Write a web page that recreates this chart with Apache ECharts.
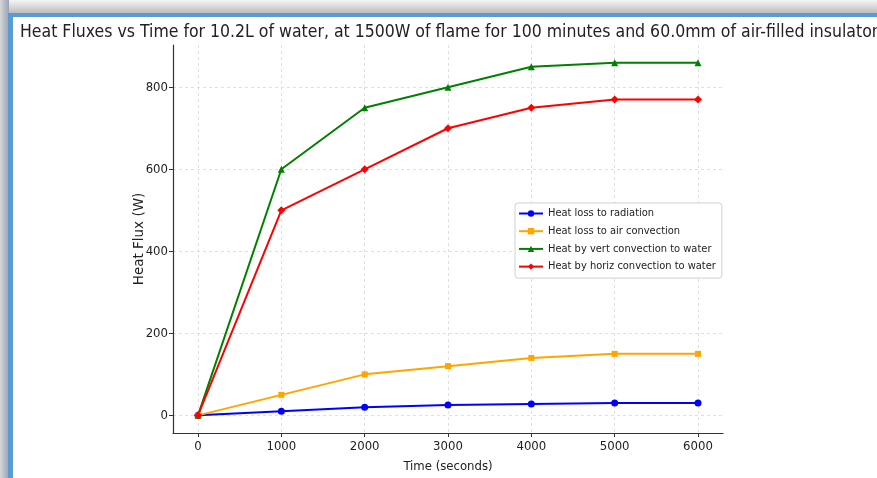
<!DOCTYPE html>
<html>
<head>
<meta charset="utf-8">
<script src="https://cdn.jsdelivr.net/npm/echarts@6/dist/echarts.min.js"></script>
<style>
  html, body { margin: 0; padding: 0; background: #fff; }
  #chart { width: 877px; height: 478px; }
</style>
</head>
<body>
<div id="chart"></div>
<script>
// Time samples (seconds)
const times = [0, 1000, 2000, 3000, 4000, 5000, 6000];

// Heat fluxes (W) at each time sample
const radiationLoss = [0, 10, 20, 25, 28, 30, 30];
const airConvectionLoss = [0, 50, 100, 120, 140, 150, 150];
const vertConvection = [0, 600, 750, 800, 850, 860, 860];
const horizConvection = [0, 500, 600, 700, 750, 770, 770];

// Tick labels
const xTicks = [0, 1000, 2000, 3000, 4000, 5000, 6000];
const yTicks = [0, 200, 400, 600, 800];

const titleText = 'Heat Fluxes vs Time for 10.2L of water, at 1500W of flame for 100 minutes and 60.0mm of air-filled insulator';

const condensed = '"DejaVu Sans Condensed", "DejaVu Sans", sans-serif';
const regular = '"DejaVu Sans", sans-serif';

function pairs(values) {
  return times.map((t, i) => [t, values[i]]);
}

function lineSeries(name, values, color, symbol, size) {
  return {
    name: name,
    type: 'line',
    data: pairs(values),
    symbol: symbol,
    symbolSize: size,
    showSymbol: true,
    lineStyle: { color: color, width: 2 },
    itemStyle: { color: color },
    emphasis: { disabled: true },
    animation: false,
    z: 3
  };
}

const chart = echarts.init(document.getElementById('chart'), null, { renderer: 'canvas' });

chart.setOption({
  animation: false,
  backgroundColor: '#ffffff',
  title: {
    text: titleText,
    left: 20,
    top: 23,
    padding: 0,
    textStyle: { fontFamily: condensed, fontSize: 17.5, fontWeight: 'normal', color: '#222' }
  },
  graphic: [
    // window-style frame along the top and left edges
    { type: 'rect', shape: { x: 0, y: 0, width: 877, height: 14 },
      style: { fill: new echarts.graphic.LinearGradient(0, 0, 0, 1, [
        { offset: 0, color: '#f5f5f5' }, { offset: 1, color: '#b9b9b9' }]) }, z: 10 },
    { type: 'rect', shape: { x: 0, y: 0, width: 9, height: 478 },
      style: { fill: new echarts.graphic.LinearGradient(0, 0, 1, 0, [
        { offset: 0, color: '#d6d6d6' }, { offset: 1, color: '#98a3b2' }]) }, z: 10 },
    { type: 'rect', shape: { x: 8, y: 13, width: 869, height: 4 },
      style: { fill: '#5b9bd5' }, z: 11 },
    { type: 'rect', shape: { x: 8, y: 13, width: 5, height: 465 },
      style: { fill: '#5b9bd5' }, z: 11 }
  ],
  grid: { left: 173, right: 154, top: 45, bottom: 42, containLabel: false },
  legend: {
    orient: 'vertical',
    left: 515,
    top: 203,
    padding: [5, 6, 6, 3],
    itemGap: 6.7,
    itemWidth: 24,
    itemHeight: 8,
    backgroundColor: '#ffffff',
    borderColor: '#d0d0d0',
    borderWidth: 1,
    borderRadius: 3,
    textStyle: { fontFamily: condensed, fontSize: 11, color: '#222' },
    data: ['Heat loss to radiation', 'Heat loss to air convection',
           'Heat by vert convection to water', 'Heat by horiz convection to water']
  },
  xAxis: {
    type: 'value',
    min: -300,
    max: 6300,
    name: 'Time (seconds)',
    nameLocation: 'middle',
    nameGap: 27,
    nameTextStyle: { fontFamily: condensed, fontSize: 13, color: '#222' },
    axisLine: { show: true, onZero: false, lineStyle: { color: '#333', width: 1.2 } },
    axisTick: { show: true, length: 4, customValues: xTicks, lineStyle: { color: '#333' } },
    axisLabel: { customValues: xTicks, margin: 7, fontFamily: condensed, fontSize: 13, color: '#222',
                 formatter: (v) => String(v) },
    splitLine: { show: true, lineStyle: { color: '#d8d8d8', type: [3, 3], width: 0.8 } }
  },
  yAxis: {
    type: 'value',
    min: -43,
    max: 903,
    name: 'Heat Flux (W)',
    nameLocation: 'middle',
    nameGap: 27,
    nameMoveOverlap: false,
    nameRotate: 90,
    nameTextStyle: { fontFamily: regular, fontSize: 13.5, color: '#222' },
    axisLine: { show: true, onZero: false, lineStyle: { color: '#333', width: 1.2 } },
    axisTick: { show: true, length: 4, customValues: yTicks, lineStyle: { color: '#333' } },
    axisLabel: { customValues: yTicks, margin: 5, fontFamily: condensed, fontSize: 13, color: '#222',
                 formatter: (v) => String(v) },
    splitLine: { show: true, lineStyle: { color: '#d8d8d8', type: [3, 3], width: 0.8 } }
  },
  series: [
    lineSeries('Heat loss to radiation', radiationLoss, '#0000ff', 'circle', 7),
    lineSeries('Heat loss to air convection', airConvectionLoss, '#ffa500', 'rect', 6),
    lineSeries('Heat by vert convection to water', vertConvection, '#008000', 'triangle', 7),
    lineSeries('Heat by horiz convection to water', horizConvection, '#ff0000', 'diamond', 8)
  ]
});
</script>
</body>
</html>
